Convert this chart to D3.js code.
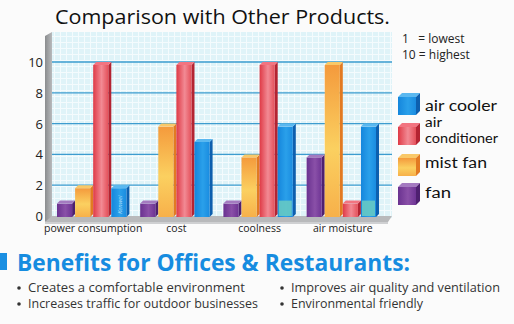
<!DOCTYPE html>
<html><head><meta charset="utf-8">
<script src="https://cdn.jsdelivr.net/npm/d3@7"></script>
<style>html,body{margin:0;padding:0;background:#fbfbfb;}svg{display:block;}</style>
</head><body>
<svg id="c" width="514" height="324"></svg>
<script>
const categories = ["power consumption", "cost", "coolness", "air moisture"];
const seriesNames = ["fan", "mist fan", "air conditioner", "air cooler"];
const fan = [1, 1, 1, 4];
const mistFan = [2, 6, 4, 10];
const airConditioner = [10, 10, 10, 1];
const airCooler = [2, 5, 6, 6];
const airCoolerBase = [0, 0, 1, 1];
const yTicks = [0, 2, 4, 6, 8, 10];
const legendOrder = ["air cooler", "air conditioner", "mist fan", "fan"];
const benefits = ["Creates a comfortable environment", "Increases traffic for outdoor businesses",
  "Improves air quality and ventilation", "Environmental friendly"];

const values = [fan, mistFan, airConditioner, airCooler];
const svg = d3.select("#c");
const FONT = "'Open Sans', Lato, sans-serif";
const LFONT = "Lato, sans-serif";
const defs = svg.append("defs");

const pal = {
  "fan": {front: ["#6a3290", "#8a50a8", "#6e3494"], side: "#4e2070", top: "#a47ac0"},
  "mist fan": {front: ["#f49a3c", "#fbd060", "#f7b04a"], side: "#e27a22", top: "#f9c868", vertical: true},
  "air conditioner": {front: ["#df3a46", "#f28a94", "#e4505a"], side: "#b42432", top: "#f27480"},
  "air cooler": {front: ["#1586dc", "#2aa0ea", "#1a8ce0"], side: "#0d5fae", top: "#5ab8f0"}
};
seriesNames.forEach((s, i) => {
  const p = pal[s];
  const g = defs.append("linearGradient").attr("id", "g" + i)
    .attr("x1", 0).attr("y1", 0).attr("x2", p.vertical ? 0 : 1).attr("y2", p.vertical ? 1 : 0);
  g.append("stop").attr("offset", "0%").attr("stop-color", p.front[0]);
  g.append("stop").attr("offset", "55%").attr("stop-color", p.front[1]);
  g.append("stop").attr("offset", "100%").attr("stop-color", p.front[2]);
});
const pat = defs.append("pattern").attr("id", "grid").attr("patternUnits", "userSpaceOnUse")
  .attr("width", 6).attr("height", 6);
pat.append("rect").attr("width", 6).attr("height", 6).attr("fill", "#dff3f8");
pat.append("path").attr("d", "M0 0.5H6M0.5 0V6").attr("stroke", "#f4fbfd").attr("stroke-width", 1);
const wallG = defs.append("linearGradient").attr("id", "wall").attr("x1", 0).attr("x2", 1);
wallG.append("stop").attr("offset", "0%").attr("stop-color", "#8a8c8e");
wallG.append("stop").attr("offset", "100%").attr("stop-color", "#b8babc");

const x0 = d3.scaleBand().domain(categories).range([52, 384]).paddingInner(0.13).paddingOuter(0.06);
const x1 = d3.scaleBand().domain(seriesNames).range([0, x0.bandwidth()]).padding(0);
const y = d3.scaleLinear().domain([0, 10]).range([216, 62]);

svg.append("rect").attr("x", 52).attr("y", 32).attr("width", 340).attr("height", y(0) - 32 + 2)
  .attr("fill", "url(#grid)");
svg.append("path").attr("d", `M45 36 L52 32 L52 ${y(0)+2} L45 ${y(0)+6} Z`).attr("fill", "url(#wall)");
svg.append("path").attr("d", `M45 ${y(0)+6} L52 ${y(0)} L392 ${y(0)} L388 ${y(0)+6} Z`).attr("fill", "#b8b9bb");
svg.append("path").attr("d", `M45 ${y(0)+6} L388 ${y(0)+6} L388 ${y(0)+8} L45 ${y(0)+8} Z`).attr("fill", "#cfd0d2");

const yAxis = d3.axisLeft(y).tickValues(yTicks).tickSize(0).tickPadding(0);
const ax = svg.append("g").attr("transform", "translate(43,0)").call(yAxis);
ax.select(".domain").remove();
ax.selectAll("text").attr("font-family", FONT).attr("font-size", 13).attr("fill", "#222").attr("dy", "0.35em");
svg.append("g").selectAll("line").data(yTicks.filter(d => d > 0)).join("line")
  .attr("x1", 52).attr("x2", 392).attr("y1", d => y(d)).attr("y2", d => y(d))
  .attr("stroke", "#3d9ccf").attr("stroke-width", 1.3);

const D = 3;
const bw = x1.bandwidth() - D;
const bars = svg.append("g");
categories.forEach((cat, ci) => {
  seriesNames.forEach((s, si) => {
    const v = values[si][ci];
    const bx = x0(cat) + x1(s);
    const ty = y(v) + D, by = y(0) + 1;
    const p = pal[s];
    const g = bars.append("g");
    g.append("path").attr("d", `M${bx+bw} ${ty} L${bx+bw+D} ${ty-D} L${bx+bw+D} ${by-D} L${bx+bw} ${by} Z`).attr("fill", p.side);
    g.append("rect").attr("x", bx).attr("y", ty).attr("width", bw).attr("height", by - ty).attr("fill", `url(#g${si})`);
    g.append("path").attr("d", `M${bx} ${ty} L${bx+D} ${ty-D} L${bx+bw+D} ${ty-D} L${bx+bw} ${ty} Z`).attr("fill", p.top);
    if (s === "air cooler" && airCoolerBase[ci] > 0) {
      g.append("rect").attr("x", bx + 1).attr("y", y(airCoolerBase[ci])).attr("width", bw - 2)
        .attr("height", by - y(airCoolerBase[ci]) - 1).attr("fill", "#66c9c4").attr("opacity", 0.9);
    }
    if (s === "air cooler" && ci === 0) {
      g.append("text").attr("transform", `translate(${bx + bw/2 + 3},${by - 3}) rotate(-90)`)
        .attr("font-family", FONT).attr("font-size", 6).attr("font-style", "italic")
        .attr("fill", "#d8f0ff").attr("opacity", 0.8).text("Kenwel");
    }
  });
});

svg.append("g").selectAll("text").data(categories).join("text")
  .attr("x", d => x0(d) + x0.bandwidth() / 2).attr("y", 232)
  .attr("text-anchor", "middle").attr("font-family", FONT).attr("font-size", 10.5).attr("fill", "#222")
  .text(d => d);

svg.append("text").attr("x", 55).attr("y", 24).attr("font-family", FONT).attr("font-size", 19.5)
  .attr("fill", "#111").attr("textLength", 335).attr("lengthAdjust", "spacingAndGlyphs")
  .text("Comparison with Other Products.");

svg.append("text").attr("x", 402).attr("y", 43).attr("font-family", FONT).attr("font-size", 12).attr("fill", "#222")
  .attr("xml:space", "preserve").text("1   = lowest");
svg.append("text").attr("x", 402).attr("y", 59).attr("font-family", FONT).attr("font-size", 12).attr("fill", "#222")
  .text("10 = highest");

const legY = [93, 123, 154, 183];
const legText = {"air cooler": [110.5, 72], "mist fan": [168, 62], "fan": [198, 26]};
const legend = svg.append("g");
legendOrder.forEach((name, i) => {
  const si = seriesNames.indexOf(name);
  const p = pal[name];
  const lx = 398, ly = legY[i] + 4, w = 18, h = 18, d = 4;
  legend.append("path").attr("d", `M${lx} ${ly} L${lx+d} ${ly-d} L${lx+w+d} ${ly-d} L${lx+w} ${ly} Z`).attr("fill", p.top);
  legend.append("path").attr("d", `M${lx+w} ${ly} L${lx+w+d} ${ly-d} L${lx+w+d} ${ly+h-d} L${lx+w} ${ly+h} Z`).attr("fill", p.side);
  legend.append("rect").attr("x", lx).attr("y", ly).attr("width", w).attr("height", h).attr("fill", `url(#g${si})`);
  if (name === "air conditioner") {
    legend.append("text").attr("font-family", LFONT).attr("font-size", 12.5).attr("fill", "#111")
      .attr("x", 425).attr("y", 127).attr("textLength", 17).attr("lengthAdjust", "spacingAndGlyphs").text("air");
    legend.append("text").attr("font-family", LFONT).attr("font-size", 12.5).attr("fill", "#111")
      .attr("x", 425).attr("y", 142.5).attr("textLength", 73).attr("lengthAdjust", "spacingAndGlyphs").text("conditioner");
  } else {
    const [ty, tl] = legText[name];
    legend.append("text").attr("font-family", LFONT).attr("font-size", 14.5).attr("fill", "#111")
      .attr("x", 425).attr("y", ty).attr("textLength", tl).attr("lengthAdjust", "spacingAndGlyphs").text(name);
  }
});

svg.append("rect").attr("x", 0).attr("y", 253).attr("width", 7).attr("height", 17).attr("fill", "#1a8fe2");
svg.append("text").attr("x", 17).attr("y", 271).attr("font-family", FONT).attr("font-weight", 700)
  .attr("font-size", 23).attr("fill", "#168ce0").attr("textLength", 393).attr("lengthAdjust", "spacingAndGlyphs")
  .text("Benefits for Offices & Restaurants:");
const bpos = [[28, 292, 217], [28, 308, 230], [291, 292, 209], [291, 308, 132]];
benefits.forEach((b, i) => {
  const [bx, by, bl] = bpos[i];
  svg.append("circle").attr("cx", bx - 9).attr("cy", by - 4).attr("r", 1.8).attr("fill", "#333");
  svg.append("text").attr("x", bx).attr("y", by).attr("font-family", FONT).attr("font-size", 12)
    .attr("fill", "#333").attr("textLength", bl).attr("lengthAdjust", "spacingAndGlyphs").text(b);
});
</script>
</body></html>
